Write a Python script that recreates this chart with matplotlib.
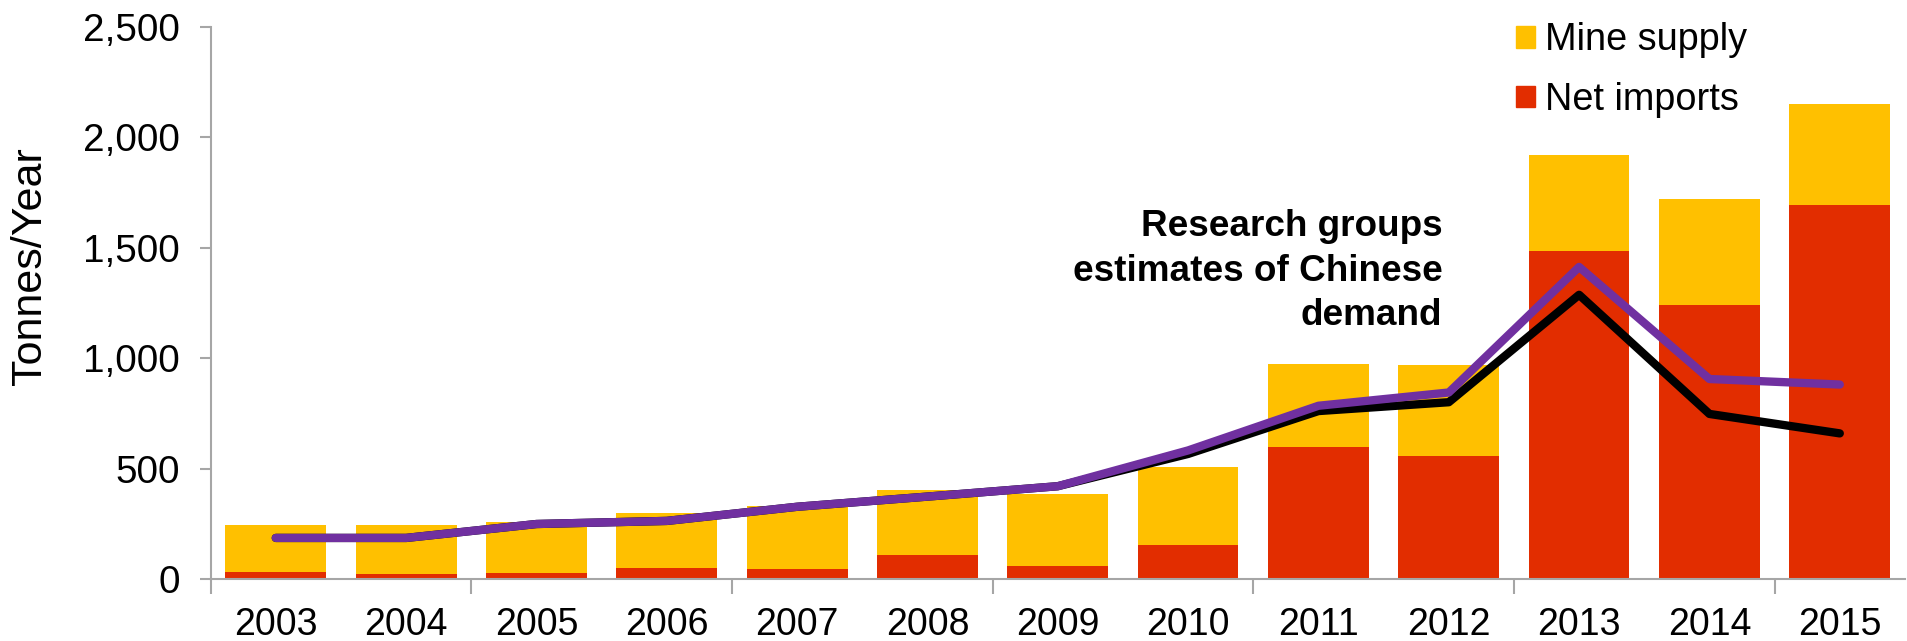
import matplotlib
matplotlib.use("Agg")
import matplotlib.pyplot as plt
from matplotlib.patches import Patch
import numpy as np

years = ['2003', '2004', '2005', '2006', '2007', '2008', '2009',
         '2010', '2011', '2012', '2013', '2014', '2015']
net_imports = [33, 25, 28, 50, 48, 111, 62, 154, 599, 557, 1484, 1241, 1692]
mine_supply = [211, 219, 231, 248, 283, 293, 325, 353, 374, 411, 434, 480, 458]
demand_black = [187, 187, 250, 264, 328, 374, 421, 567, 761, 801, 1287, 748, 660]
demand_purple = [187, 187, 250, 264, 328, 374, 421, 583, 785, 845, 1413, 906, 881]

yellow = '#FFC000'
red = '#E22D00'
purple = '#7030A0'
grey = '#A6A6A6'

plt.rcParams['font.family'] = 'Liberation Sans'

fig = plt.figure(figsize=(19.08, 6.41), dpi=100)
ax = fig.add_axes([0.1104, 0.0963, 0.888, 0.8621])

x = np.arange(len(years))
ax.bar(x, net_imports, width=0.773, color=red, zorder=2)
ax.bar(x, mine_supply, width=0.773, bottom=net_imports, color=yellow, zorder=2)

ax.plot(x, demand_black, color='black', lw=6, solid_capstyle='round',
        solid_joinstyle='round', zorder=3)
ax.plot(x, demand_purple, color=purple, lw=6, solid_capstyle='round',
        solid_joinstyle='round', zorder=4)

ax.set_xlim(-0.5, 12.5)
ax.set_ylim(0, 2500)

# year labels sit under the bars, tick marks between every second pair
ax.set_xticks(x)
ax.set_xticklabels(years, fontsize=27)
ax.tick_params(axis='x', which='major', length=0, pad=20)
ax.set_xticks(np.arange(-0.5, 12, 2), minor=True)
ax.tick_params(axis='x', which='minor', length=11, width=1.5, color=grey)

ax.set_yticks(np.arange(0, 2501, 500))
ax.set_yticklabels(['{:,}'.format(v) for v in range(0, 2501, 500)], fontsize=27.8)
ax.tick_params(axis='y', length=7.7, width=1.5, color=grey, pad=14.5)

for side in ['top', 'right']:
    ax.spines[side].set_visible(False)
for side in ['left', 'bottom']:
    ax.spines[side].set_color(grey)
    ax.spines[side].set_linewidth(1.5)

fig.text(30 / 1908, 1 - 266.5 / 641, 'Tonnes/Year', rotation=90,
         ha='center', va='center', fontsize=31)

ax.text(8.95, 1675, 'Research groups\nestimates of Chinese\ndemand',
        ha='right', va='top', fontsize=26.6, fontweight='bold',
        linespacing=1.36, zorder=5)

handles = [Patch(color=yellow, label='Mine supply'),
           Patch(color=red, label='Net imports')]
ax.legend(handles=handles, loc='upper left',
          bbox_to_anchor=(1516 / 1908, 1 - 22.5 / 641), bbox_transform=fig.transFigure,
          frameon=False, fontsize=27.3, handlelength=0.5, handleheight=0.5,
          handletextpad=0.26, labelspacing=0.62, borderpad=0, borderaxespad=0)

fig.savefig('out.png', dpi=100)
